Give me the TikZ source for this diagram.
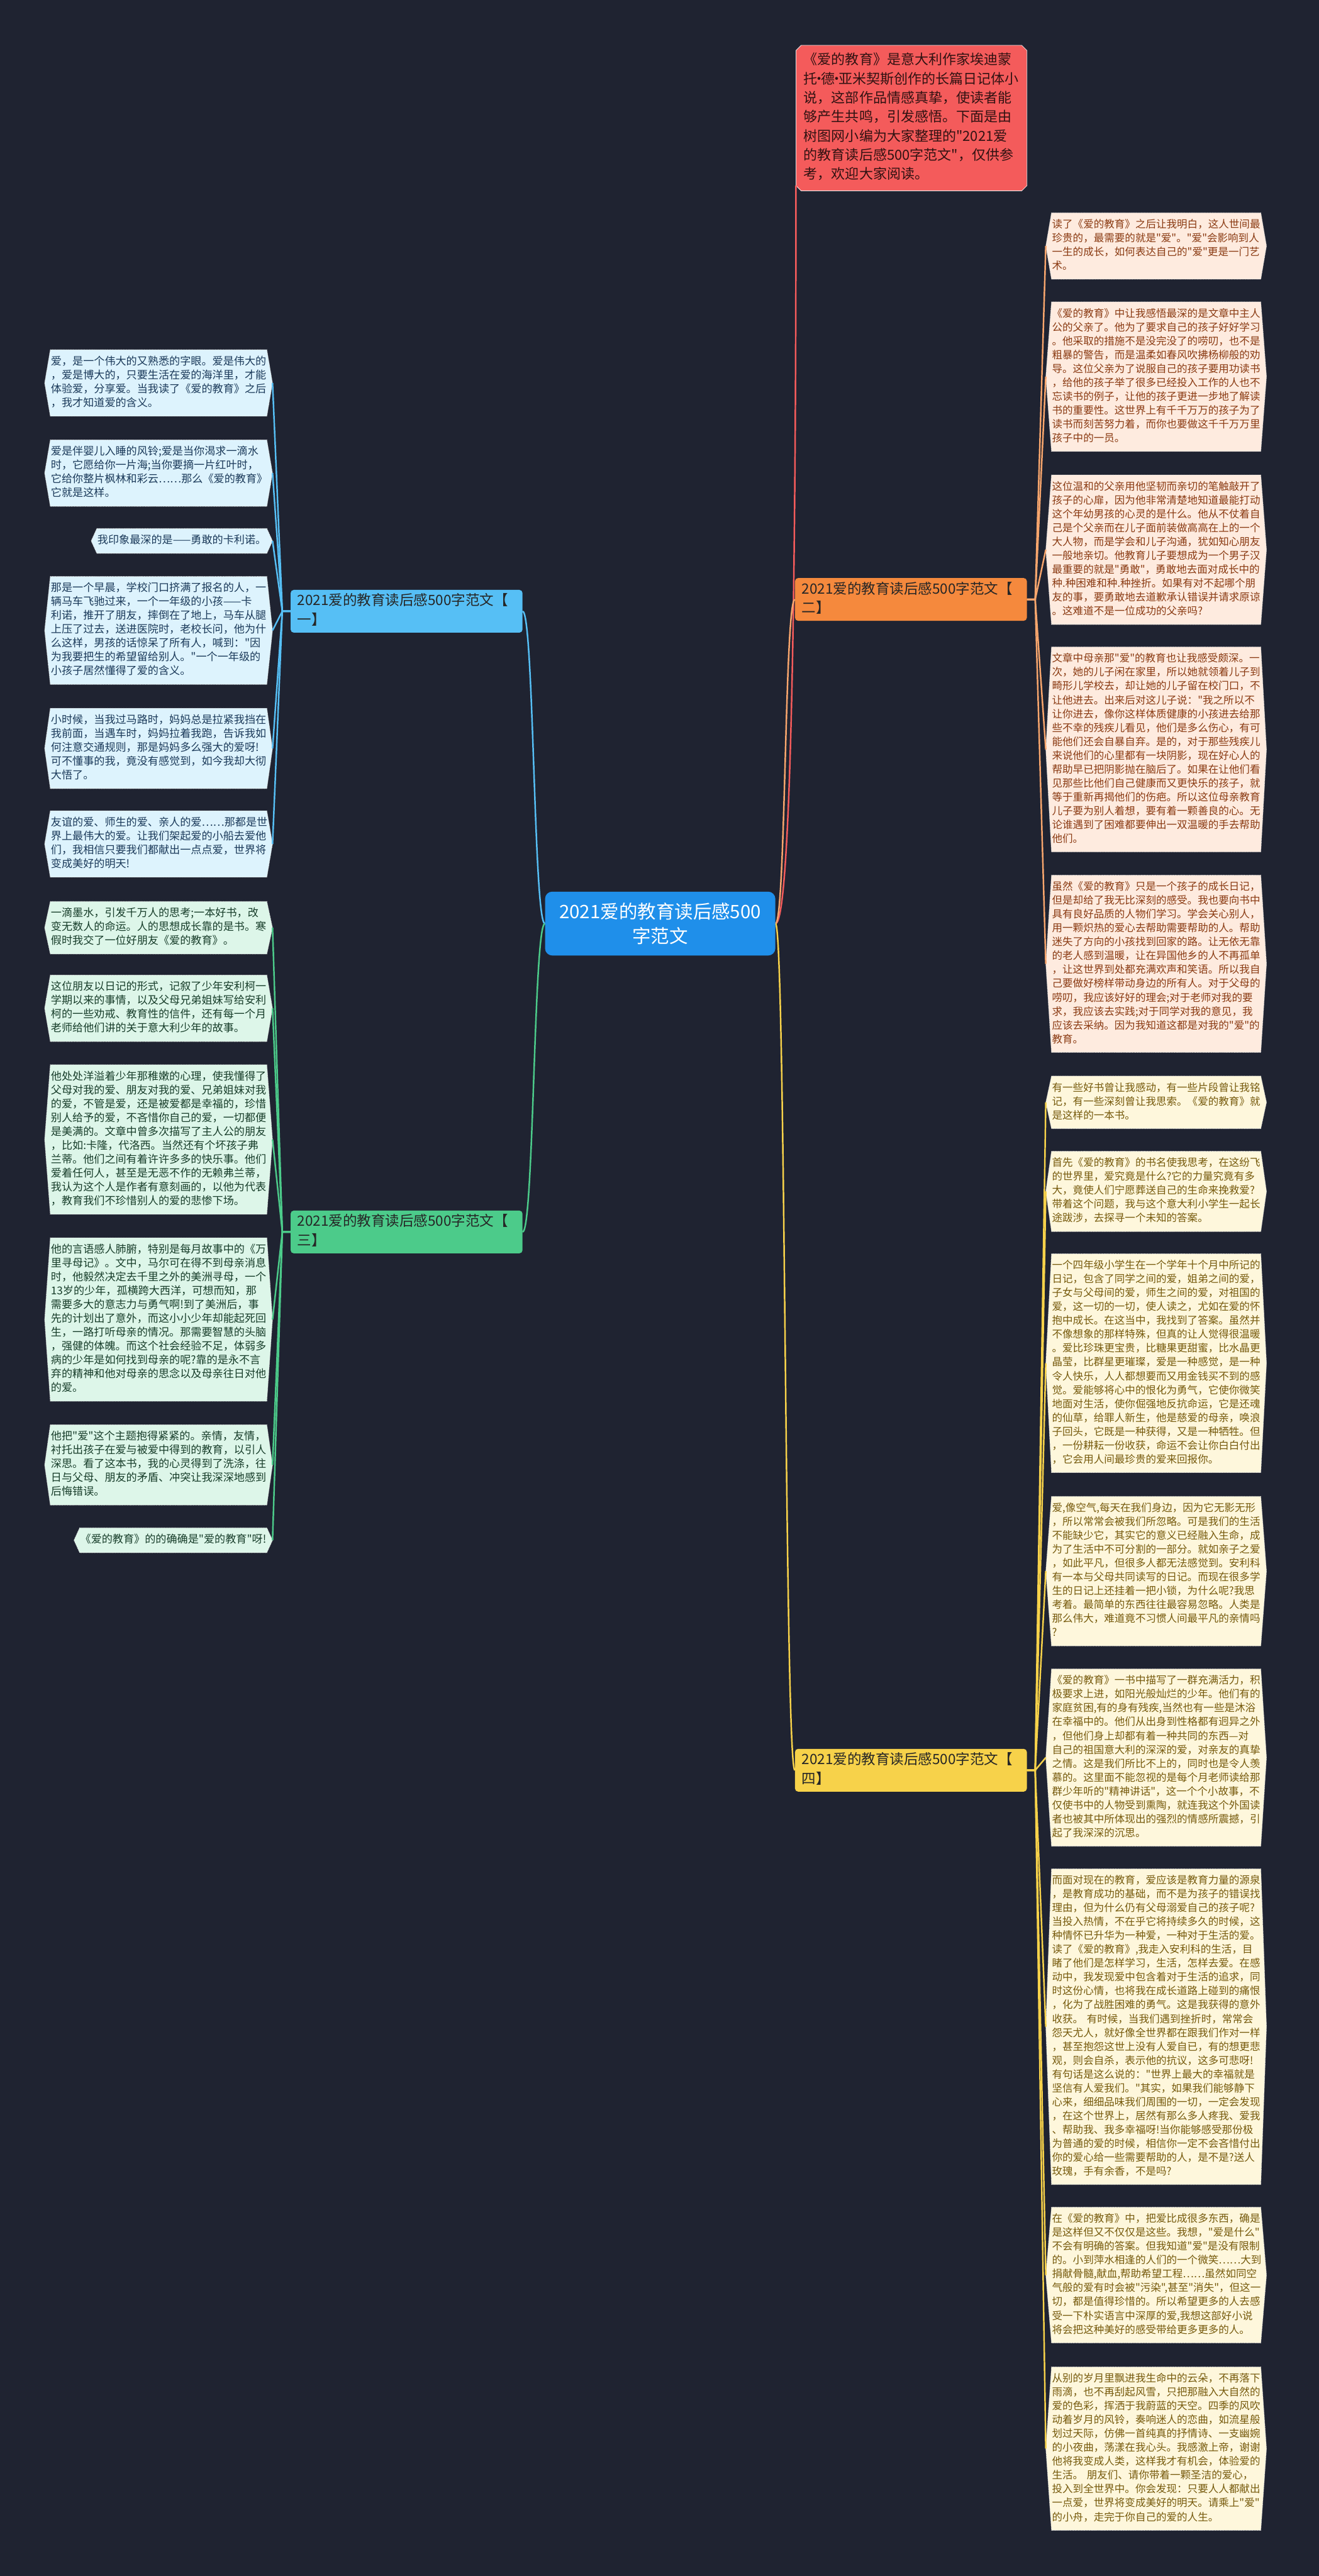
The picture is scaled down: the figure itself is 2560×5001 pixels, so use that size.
\documentclass[tikz,border=0pt]{standalone}
\usepackage{fontspec}
\newfontfamily\cjk{Noto Sans CJK SC}
\pgfdeclarelayer{back}
\pgfsetlayers{back,main}
\newcommand\middot{\hbox to 7pt{\hss·\hss}}
\definecolor{bgcol}{HTML}{1F2331}
\definecolor{rootcol}{HTML}{1F8FEA}
\definecolor{introcol}{HTML}{F45B5B}
\definecolor{onecol}{HTML}{56BFF5}
\definecolor{twocol}{HTML}{F5893D}
\definecolor{threecol}{HTML}{4CCB8A}
\definecolor{fourcol}{HTML}{F7D24A}
\definecolor{lfone}{HTML}{DDF3FD}
\definecolor{lftwo}{HTML}{FEEBDF}
\definecolor{lfthree}{HTML}{DDF6E9}
\definecolor{lffour}{HTML}{FEF7DC}
\definecolor{txone}{HTML}{1B3A5A}
\definecolor{txtwo}{HTML}{8A3A12}
\definecolor{txthree}{HTML}{173D2A}
\definecolor{txfour}{HTML}{765A0C}
\tikzset{
  leaf/.style={align=left,inner xsep=1pt,inner ysep=10.5pt,
    execute at begin node=\strut,execute at end node=\strut},
  lfLs/.style={leaf,anchor=north east,font=\cjk\fontsize{20.9}{26.9}\selectfont},
  lfL/.style={lfLs,text width=418pt},
  lfR/.style={leaf,anchor=north west,text width=404pt,
    font=\cjk\fontsize{20.2}{26.9}\selectfont},
  leafone/.style={lfL,text=txone},
  leafthree/.style={lfL,text=txthree},
  leaftwo/.style={lfR,text=txtwo},
  leaffour/.style={lfR,text=txfour},
  branch/.style={anchor=north west,align=left,text width=424pt,inner xsep=13pt,
    inner ysep=4.5pt,rounded corners=6pt,text=black!85,
    font=\cjk\fontsize{27.5}{37}\selectfont,
    execute at begin node=\strut,execute at end node=\strut},
  link/.style={line width=3pt},
  linkone/.style={link,draw=onecol},
  linktwo/.style={link,draw=twocol!75!white},
  linkthree/.style={link,draw=threecol},
  linkfour/.style={link,draw=fourcol},
}
\begin{document}
\begin{tikzpicture}[x=1pt,y=-1pt]
\useasboundingbox (0,0) rectangle (2560,5001);
\begin{pgfonlayer}{back}
  \fill[bgcol] (0,0) rectangle (2560,5001);
\end{pgfonlayer}

% centre, summary and branches
\node[fill=rootcol,text=white,rounded corners=14pt,minimum width=447pt,
  minimum height=124pt,align=center,font=\cjk\fontsize{36}{48}\selectfont]
  (root) at (1281.5,1793) {2021爱的教育读后感500\\字范文};
\node[anchor=north west,align=left,text width=418pt,inner xsep=15pt,inner ysep=11.5pt,
  text=introcol!20!black,font=\cjk\fontsize{26.9}{37}\selectfont,
  execute at begin node=\strut,execute at end node=\strut]
  (intro) at (1545,88) {《爱的教育》是意大利作家埃迪蒙\\托\middot 德\middot 亚米契斯创作的长篇日记体小\\说，这部作品情感真挚，使读者能\\够产生共鸣，引发感悟。下面是由\\树图网小编为大家整理的"2021爱\\的教育读后感500字范文"，仅供参\\考，欢迎大家阅读。};
\node[branch,fill=onecol] (one) at (564,1145) {2021爱的教育读后感500字范文【\\一】};
\node[branch,fill=twocol] (two) at (1543,1122) {2021爱的教育读后感500字范文【\\二】};
\node[branch,fill=threecol] (three) at (564,2350) {2021爱的教育读后感500字范文【\\三】};
\node[branch,fill=fourcol] (four) at (1543,3395) {2021爱的教育读后感500字范文【\\四】};

% branch one
\node[leafone] (one1) at (518,679) {爱，是一个伟大的又熟悉的字眼。爱是伟大的\\，爱是博大的，只要生活在爱的海洋里，才能\\体验爱，分享爱。当我读了《爱的教育》之后\\，我才知道爱的含义。};
\node[leafone] (one2) at (518,854) {爱是伴婴儿入睡的风铃;爱是当你渴求一滴水\\时，它愿给你一片海;当你要摘一片红叶时，\\它给你整片枫林和彩云……那么《爱的教育》\\它就是这样。};
\node[lfLs,text=txone] (one3) at (518,1026) {我印象最深的是——勇敢的卡利诺。};
\node[leafone] (one4) at (518,1119) {那是一个早晨，学校门口挤满了报名的人，一\\辆马车飞驰过来，一个一年级的小孩——卡\\利诺，推开了朋友，摔倒在了地上，马车从腿\\上压了过去，送进医院时，老校长问，他为什\\么这样，男孩的话惊呆了所有人，喊到："因\\为我要把生的希望留给别人。"一个一年级的\\小孩子居然懂得了爱的含义。};
\node[leafone] (one5) at (518,1375) {小时候，当我过马路时，妈妈总是拉紧我挡在\\我前面，当遇车时，妈妈拉着我跑，告诉我如\\何注意交通规则，那是妈妈多么强大的爱呀!\\可不懂事的我，竟没有感觉到，如今我却大彻\\大悟了。};
\node[leafone] (one6) at (518,1574) {友谊的爱、师生的爱、亲人的爱……那都是世\\界上最伟大的爱。让我们架起爱的小船去爱他\\们，我相信只要我们都献出一点点爱，世界将\\变成美好的明天!};

% branch three
\node[leafthree] (three1) at (518,1750) {一滴墨水，引发千万人的思考;一本好书，改\\变无数人的命运。人的思想成长靠的是书。寒\\假时我交了一位好朋友《爱的教育》。};
\node[leafthree] (three2) at (518,1893) {这位朋友以日记的形式，记叙了少年安利柯一\\学期以来的事情，以及父母兄弟姐妹写给安利\\柯的一些劝戒、教育性的信件，还有每一个月\\老师给他们讲的关于意大利少年的故事。};
\node[leafthree] (three3) at (518,2067) {他处处洋溢着少年那稚嫩的心理，使我懂得了\\父母对我的爱、朋友对我的爱、兄弟姐妹对我\\的爱，不管是爱，还是被爱都是幸福的，珍惜\\别人给予的爱，不吝惜你自己的爱，一切都便\\是美满的。文章中曾多次描写了主人公的朋友\\，比如:卡隆，代洛西。当然还有个坏孩子弗\\兰蒂。他们之间有着许许多多的快乐事。他们\\爱着任何人，甚至是无恶不作的无赖弗兰蒂，\\我认为这个人是作者有意刻画的，以他为代表\\，教育我们不珍惜别人的爱的悲惨下场。};
\node[leafthree] (three4) at (518,2403) {他的言语感人肺腑，特别是每月故事中的《万\\里寻母记》。文中，马尔可在得不到母亲消息\\时，他毅然决定去千里之外的美洲寻母，一个\\13岁的少年，孤横跨大西洋，可想而知，那\\需要多大的意志力与勇气啊!到了美洲后，事\\先的计划出了意外，而这小小少年却能起死回\\生，一路打听母亲的情况。那需要智慧的头脑\\，强健的体魄。而这个社会经验不足，体弱多\\病的少年是如何找到母亲的呢?靠的是永不言\\弃的精神和他对母亲的思念以及母亲往日对他\\的爱。};
\node[leafthree] (three5) at (518,2766) {他把"爱"这个主题抱得紧紧的。亲情，友情，\\衬托出孩子在爱与被爱中得到的教育，以引人\\深思。看了这本书，我的心灵得到了洗涤，往\\日与父母、朋友的矛盾、冲突让我深深地感到\\后悔错误。};
\node[lfLs,text=txthree] (three6) at (518,2966) {《爱的教育》的的确确是"爱的教育"呀!};

% branch two
\node[leaftwo] (two1) at (2041,413) {读了《爱的教育》之后让我明白，这人世间最\\珍贵的，最需要的就是"爱"。"爱"会影响到人\\一生的成长，如何表达自己的"爱"更是一门艺\\术。};
\node[leaftwo] (two2) at (2041,586) {《爱的教育》中让我感悟最深的是文章中主人\\公的父亲了。他为了要求自己的孩子好好学习\\。他采取的措施不是没完没了的唠叨，也不是\\粗暴的警告，而是温柔如春风吹拂杨柳般的劝\\导。这位父亲为了说服自己的孩子要用功读书\\，给他的孩子举了很多已经投入工作的人也不\\忘读书的例子，让他的孩子更进一步地了解读\\书的重要性。这世界上有千千万万的孩子为了\\读书而刻苦努力着，而你也要做这千千万万里\\孩子中的一员。};
\node[leaftwo] (two3) at (2041,922) {这位温和的父亲用他坚韧而亲切的笔触敲开了\\孩子的心扉，因为他非常清楚地知道最能打动\\这个年幼男孩的心灵的是什么。他从不仗着自\\己是个父亲而在儿子面前装做高高在上的一个\\大人物，而是学会和儿子沟通，犹如知心朋友\\一般地亲切。他教育儿子要想成为一个男子汉\\最重要的就是"勇敢"，勇敢地去面对成长中的\\种.种困难和种.种挫折。如果有对不起哪个朋\\友的事，要勇敢地去道歉承认错误并请求原谅\\。这难道不是一位成功的父亲吗?};
\node[leaftwo] (two4) at (2041,1256) {文章中母亲那"爱"的教育也让我感受颇深。一\\次，她的儿子闲在家里，所以她就领着儿子到\\畸形儿学校去，却让她的儿子留在校门口，不\\让他进去。出来后对这儿子说："我之所以不\\让你进去，像你这样体质健康的小孩进去给那\\些不幸的残疾儿看见，他们是多么伤心，有可\\能他们还会自暴自弃。是的，对于那些残疾儿\\来说他们的心里都有一块阴影，现在好心人的\\帮助早已把阴影抛在脑后了。如果在让他们看\\见那些比他们自己健康而又更快乐的孩子，就\\等于重新再揭他们的伤疤。所以这位母亲教育\\儿子要为别人着想，要有着一颗善良的心。无\\论谁遇到了困难都要伸出一双温暖的手去帮助\\他们。};
\node[leaftwo] (two5) at (2041,1699) {虽然《爱的教育》只是一个孩子的成长日记，\\但是却给了我无比深刻的感受。我也要向书中\\具有良好品质的人物们学习。学会关心别人，\\用一颗炽热的爱心去帮助需要帮助的人。帮助\\迷失了方向的小孩找到回家的路。让无依无靠\\的老人感到温暖，让在异国他乡的人不再孤单\\，让这世界到处都充满欢声和笑语。所以我自\\己要做好榜样带动身边的所有人。对于父母的\\唠叨，我应该好好的理会;对于老师对我的要\\求，我应该去实践;对于同学对我的意见，我\\应该去采纳。因为我知道这都是对我的"爱"的\\教育。};

% branch four
\node[leaffour] (four1) at (2041,2089) {有一些好书曾让我感动，有一些片段曾让我铭\\记，有一些深刻曾让我思索。《爱的教育》就\\是这样的一本书。};
\node[leaffour] (four2) at (2041,2235) {首先《爱的教育》的书名使我思考，在这纷飞\\的世界里，爱究竟是什么?它的力量究竟有多\\大，竟使人们宁愿葬送自己的生命来挽救爱?\\带着这个问题，我与这个意大利小学生一起长\\途跋涉，去探寻一个未知的答案。};
\node[leaffour] (four3) at (2041,2434) {一个四年级小学生在一个学年十个月中所记的\\日记，包含了同学之间的爱，姐弟之间的爱，\\子女与父母间的爱，师生之间的爱，对祖国的\\爱，这一切的一切，使人读之，尤如在爱的怀\\抱中成长。在这当中，我找到了答案。虽然并\\不像想象的那样特殊，但真的让人觉得很温暖\\。爱比珍珠更宝贵，比糖果更甜蜜，比水晶更\\晶莹，比群星更璀璨，爱是一种感觉，是一种\\令人快乐，人人都想要而又用金钱买不到的感\\觉。爱能够将心中的恨化为勇气，它使你微笑\\地面对生活，使你倔强地反抗命运，它是还魂\\的仙草，给罪人新生，他是慈爱的母亲，唤浪\\子回头，它既是一种获得，又是一种牺牲。但\\，一份耕耘一份收获，命运不会让你白白付出\\，它会用人间最珍贵的爱来回报你。};
\node[leaffour] (four4) at (2041,2905) {爱,像空气,每天在我们身边，因为它无影无形\\，所以常常会被我们所忽略。可是我们的生活\\不能缺少它，其实它的意义已经融入生命，成\\为了生活中不可分割的一部分。就如亲子之爱\\，如此平凡，但很多人都无法感觉到。安利科\\有一本与父母共同读写的日记。而现在很多学\\生的日记上还挂着一把小锁，为什么呢?我思\\考着。最简单的东西往往最容易忽略。人类是\\那么伟大，难道竟不习惯人间最平凡的亲情吗\\?};
\node[leaffour] (four5) at (2041,3240) {《爱的教育》一书中描写了一群充满活力，积\\极要求上进，如阳光般灿烂的少年。他们有的\\家庭贫困,有的身有残疾,当然也有一些是沐浴\\在幸福中的。他们从出身到性格都有迥异之外\\，但他们身上却都有着一种共同的东西—对\\自己的祖国意大利的深深的爱，对亲友的真挚\\之情。这是我们所比不上的，同时也是令人羡\\慕的。这里面不能忽视的是每个月老师读给那\\群少年听的"精神讲话"，这一个个小故事，不\\仅使书中的人物受到熏陶，就连我这个外国读\\者也被其中所体现出的强烈的情感所震撼，引\\起了我深深的沉思。};
\node[leaffour] (four6) at (2041,3628) {而面对现在的教育，爱应该是教育力量的源泉\\，是教育成功的基础，而不是为孩子的错误找\\理由，但为什么仍有父母溺爱自己的孩子呢?\\当投入热情，不在乎它将持续多久的时候，这\\种情怀已升华为一种爱，一种对于生活的爱。\\读了《爱的教育》,我走入安利科的生活，目\\睹了他们是怎样学习，生活，怎样去爱。在感\\动中，我发现爱中包含着对于生活的追求，同\\时这份心情，也将我在成长道路上碰到的痛恨\\，化为了战胜困难的勇气。这是我获得的意外\\收获。 有时候，当我们遇到挫折时，常常会\\怨天尤人，就好像全世界都在跟我们作对一样\\，甚至抱怨这世上没有人爱自已，有的想更悲\\观，则会自杀，表示他的抗议，这多可悲呀!\\有句话是这么说的："世界上最大的幸福就是\\坚信有人爱我们。"其实，如果我们能够静下\\心来，细细品味我们周围的一切，一定会发现\\，在这个世界上，居然有那么多人疼我、爱我\\、帮助我、我多幸福呀!当你能够感受那份极\\为普通的爱的时候，相信你一定不会吝惜付出\\你的爱心给一些需要帮助的人，是不是?送人\\玫瑰，手有余香，不是吗?};
\node[leaffour] (four7) at (2041,4285) {在《爱的教育》中，把爱比成很多东西，确是\\是这样但又不仅仅是这些。我想，"爱是什么"\\不会有明确的答案。但我知道"爱"是没有限制\\的。小到萍水相逢的人们的一个微笑……大到\\捐献骨髓,献血,帮助希望工程……虽然如同空\\气般的爱有时会被"污染",甚至"消失"，但这一\\切，都是值得珍惜的。所以希望更多的人去感\\受一下朴实语言中深厚的爱,我想这部好小说\\将会把这种美好的感受带给更多更多的人。};
\node[leaffour] (four8) at (2041,4595) {从别的岁月里飘进我生命中的云朵，不再落下\\雨滴，也不再刮起风雪，只把那融入大自然的\\爱的色彩，挥洒于我蔚蓝的天空。四季的风吹\\动着岁月的风铃，奏响迷人的恋曲，如流星般\\划过天际，仿佛一首纯真的抒情诗、一支幽婉\\的小夜曲，荡漾在我心头。我感激上帝，谢谢\\他将我变成人类，这样我才有机会，体验爱的\\生活。 朋友们、请你带着一颗圣洁的爱心，\\投入到全世界中。你会发现：只要人人都献出\\一点爱，世界将变成美好的明天。请乘上"爱"\\的小舟，走完于你自己的爱的人生。};

\begin{pgfonlayer}{back}
  % leaf boxes
  \foreach \n/\c in {one1/lfone,one2/lfone,one3/lfone,one4/lfone,one5/lfone,one6/lfone,
      three1/lfthree,three2/lfthree,three3/lfthree,three4/lfthree,three5/lfthree,three6/lfthree,
      two1/lftwo,two2/lftwo,two3/lftwo,two4/lftwo,two5/lftwo,
      four1/lffour,four2/lffour,four3/lffour,four4/lffour,four5/lffour,four6/lffour,four7/lffour,four8/lffour}
    \filldraw[fill=\c,draw=white!75!gray,densely dotted,line width=1pt]
      (\n.north west) -- (\n.north east) -- ([xshift=11pt]\n.east) -- (\n.south east)
      -- (\n.south west) -- ([xshift=-11pt]\n.west) -- cycle;
  \filldraw[fill=introcol,draw=white!80!gray,line width=1pt]
    ([xshift=10pt]intro.north west) -- ([xshift=-10pt]intro.north east)
    -- ([yshift=-10pt]intro.north east) -- ([yshift=10pt]intro.south east)
    -- ([xshift=-10pt]intro.south east) -- ([xshift=10pt]intro.south west)
    -- ([yshift=10pt]intro.south west) -- ([yshift=-10pt]intro.north west) -- cycle;
  % connectors
  \draw[link,draw=introcol] (root.east) .. controls +(36,0) and +(0,500) .. ([yshift=10pt]intro.south west);
  \draw[linktwo] (root.east) .. controls +(20,0) and +(-20,0) .. (two.west);
  \draw[linkfour] (root.east) .. controls +(20,0) and +(-20,0) .. (four.west);
  \draw[linkone] (root.west) .. controls +(-22,0) and +(22,0) .. (one.east);
  \draw[linkthree] (root.west) .. controls +(-22,0) and +(22,0) .. (three.east);
  \foreach \i in {1,...,6} {
    \draw[linkone] (one.west) -- ++(-16,0) -- ([xshift=11pt]one\i.east);
    \draw[linkthree] (three.west) -- ++(-16,0) -- ([xshift=11pt]three\i.east);
  }
  \foreach \i in {1,...,5}
    \draw[linktwo] (two.east) -- ++(16,0) -- ([xshift=-11pt]two\i.west);
  \foreach \i in {1,...,8}
    \draw[linkfour] (four.east) -- ++(16,0) -- ([xshift=-11pt]four\i.west);
\end{pgfonlayer}
\end{tikzpicture}
\end{document}
